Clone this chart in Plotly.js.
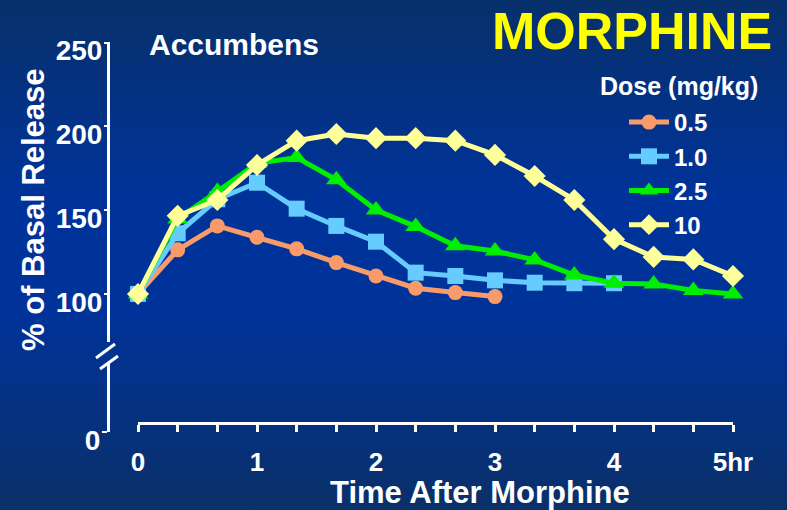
<!DOCTYPE html>
<html>
<head>
<meta charset="utf-8">
<script src="https://cdn.plot.ly/plotly-3.0.1.min.js"></script>
<style>
  body { margin: 0; }
  #chart {
    width: 787px; height: 510px;
    background: linear-gradient(to bottom, #07306a 0%, #003399 38%, #003399 62%, #0a3068 100%);
  }
</style>
</head>
<body>
<div id="chart"></div>
<script>
// minutes after morphine (samples every 20 min), plotted as hours on the axis
var minutes = [0, 20, 40, 60, 80, 100, 120, 140, 160, 180, 200, 220, 240, 260, 280, 300];

// % of basal release per dose (mg/kg)
var dose05 = [100, 126.3, 140.6, 133.8, 126.9, 118.7, 110.7, 103.4, 100.8, 98.4];
var dose1 = [100, 136.2, 156.5, 166.4, 150.9, 140.6, 131.2, 112.7, 110.7, 108.1, 106.7, 106.4, 106.4];
var dose25 = [100, 144.8, 161.1, 178, 181.4, 168.1, 150.1, 140.2, 128.7, 125.6, 120.3, 111.3, 106.4, 106.0, 102.0, 100.0];
var dose10 = [100, 146.6, 156.1, 177, 191.5, 195.5, 193, 193, 191.5, 183, 170.4, 156.1, 132.7, 122.1, 120.6, 110.7];

var doseNames = ['0.5', '1.0', '2.5', '10'];
var xTickVals = [0, 60, 120, 180, 240, 300];
var xTickText = ['0', '1', '2', '3', '4', '5hr'];
var yTickVals = [100, 150, 200, 250];

var colors = ['#f99a6a', '#66ccff', '#00ee00', '#ffff99'];
var symbols = ['circle', 'square', 'triangle-up', 'diamond'];
var sizes = [15, 16, 18, 17];
var series = [dose05, dose1, dose25, dose10];

var data = series.map(function (vals, i) {
  return {
    x: minutes.slice(0, vals.length),
    y: vals,
    name: doseNames[i],
    type: 'scatter',
    mode: 'lines+markers',
    line: {color: colors[i], width: 5},
    marker: {color: colors[i], symbol: symbols[i], size: sizes[i], line: {width: 0}},
    cliponaxis: false
  };
});
// empty trace so the lower (broken) y segment gets its own subplot
data.push({x: [], y: [], yaxis: 'y2', showlegend: false, hoverinfo: 'skip', type: 'scatter'});

// paper coords helpers for the 625x390 plot area (l=108, t=42)
function px(x) { return (x - 108) / 625; }
function py(y) { return (432 - y) / 390; }

var axisStyle = {
  showline: true, linecolor: 'white', linewidth: 3,
  showgrid: false, zeroline: false,
  ticks: 'outside', tickcolor: 'white'
};

function label(text, x, y, size, color, angle) {
  return {
    text: text, xref: 'paper', yref: 'paper', x: px(x), y: py(y),
    xanchor: 'center', yanchor: 'middle', showarrow: false, textangle: angle || 0,
    font: {size: size, color: color, weight: 'bold'}
  };
}

var layout = {
  width: 787,
  height: 510,
  paper_bgcolor: 'rgba(0,0,0,0)',
  plot_bgcolor: 'rgba(0,0,0,0)',
  margin: {l: 108, r: 54, t: 42, b: 78},
  font: {family: 'Liberation Sans, Arial, sans-serif', color: 'white', weight: 'bold'},
  showlegend: true,
  legend: {
    x: px(624), y: py(100), xanchor: 'left', yanchor: 'top',
    bgcolor: 'rgba(0,0,0,0)', font: {size: 24, color: 'white', weight: 'bold'},
    itemwidth: 40, tracegroupgap: 0
  },
  xaxis: Object.assign({}, axisStyle, {
    range: [0, 300], domain: [px(138), 1],
    anchor: 'free', position: py(423),
    tickmode: 'array', tickvals: xTickVals, ticktext: xTickText,
    ticklen: 7, tickwidth: 3,
    tickfont: {size: 26, color: 'white', weight: 'bold'},
    ticklabelstandoff: 8,
    minor: {tickmode: 'linear', tick0: 0, dtick: 20, ticks: 'outside', ticklen: 7, tickwidth: 3, tickcolor: 'white', showgrid: false}
  }),
  yaxis: Object.assign({}, axisStyle, {
    range: [71.3, 250.4], domain: [py(342), 1],
    anchor: 'free', position: 0,
    tickmode: 'array', tickvals: yTickVals,
    ticklen: 3, tickwidth: 2, ticklabelstandoff: -4, ticklabelshift: 8,
    tickfont: {size: 28, color: 'white', weight: 'bold'}
  }),
  yaxis2: Object.assign({}, axisStyle, {
    range: [0, 40], domain: [0, py(363)],
    anchor: 'free', position: 0,
    tickmode: 'array', tickvals: [0],
    ticklen: 5, tickwidth: 2, ticklabelstandoff: -4, ticklabelshift: 8,
    tickfont: {size: 28, color: 'white', weight: 'bold'}
  }),
  shapes: [
    {type: 'line', xref: 'paper', yref: 'paper', x0: px(96), y0: py(358), x1: px(115), y1: py(344), line: {color: 'white', width: 3}},
    {type: 'line', xref: 'paper', yref: 'paper', x0: px(100), y0: py(369), x1: px(118), y1: py(356), line: {color: 'white', width: 3}}
  ],
  annotations: [
    label('MORPHINE', 632, 31, 52, '#ffff00'),
    label('Accumbens', 234, 45, 30, 'white'),
    label('Dose (mg/kg)', 679, 86, 25, 'white'),
    label('Time After Morphine', 480, 493, 31, 'white'),
    label('% of Basal Release', 33, 210, 31, 'white', -90)
  ]
};

Plotly.newPlot('chart', data, layout, {displayModeBar: false});
</script>
</body>
</html>
